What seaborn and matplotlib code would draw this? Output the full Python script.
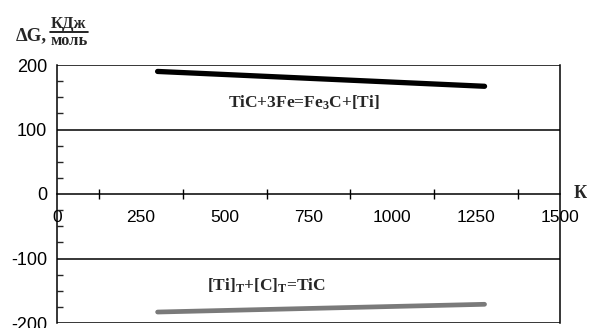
import matplotlib
matplotlib.use("Agg")
import matplotlib.pyplot as plt
import seaborn as sns
import pandas as pd
from matplotlib.ticker import MultipleLocator

# temperature, K
temp = [300, 1275]
# dG for the two reactions, kJ/mol
dg_fe3c = [190, 167]
dg_tic = [-183, -171]

xticks = [0, 250, 500, 750, 1000, 1250, 1500]
yticks = [-200, -100, 0, 100, 200]

sns.set_style("white")
plt.rcParams['font.family'] = ['Liberation Sans', 'DejaVu Sans']
plt.rcParams['mathtext.fontset'] = 'custom'
plt.rcParams['mathtext.default'] = 'regular'
plt.rcParams['axes.unicode_minus'] = False

df = pd.DataFrame({'T': temp + temp,
                   'dG': dg_fe3c + dg_tic,
                   'r': ['fe3c'] * 2 + ['tic'] * 2})

fig = plt.figure(figsize=(5.95, 3.28), dpi=100)
ax = fig.add_axes([57 / 595, 1 - 323 / 328, 503 / 595, 258 / 328])

sns.lineplot(data=df[df.r == 'fe3c'], x='T', y='dG', color='black', lw=3.8, ax=ax)
sns.lineplot(data=df[df.r == 'tic'], x='T', y='dG', color='#7a7a7a', lw=3.4, ax=ax)

ax.set_xlim(0, 1500)
ax.set_ylim(-200, 200)
ax.set_xticks(xticks)
ax.set_yticks(yticks)
ax.xaxis.set_minor_locator(MultipleLocator(125))
ax.yaxis.set_minor_locator(MultipleLocator(25))
ax.set_xlabel('')
ax.set_ylabel('')

# x axis goes through zero
ax.spines['bottom'].set_position(('data', 0))
ax.spines['top'].set_visible(False)
for s in ['left', 'right', 'bottom']:
    ax.spines[s].set_color('black')
    ax.spines[s].set_linewidth(1.1)

for y in [-200, -100, 100, 200]:
    ax.axhline(y, color='black', lw=1.1, zorder=1)

ax.tick_params(axis='x', which='both', direction='inout', length=7, width=1,
               labelsize=12.5, pad=8, colors='black')
ax.tick_params(axis='y', which='major', direction='out', length=4, width=1,
               labelsize=13, pad=3, colors='black')
ax.tick_params(axis='y', which='minor', direction='in', length=4, width=1, left=True)
ax.tick_params(axis='x', which='minor', bottom=True)

serif = ['Liberation Serif', 'DejaVu Serif']
ax.text(510, 142, 'TiC+3Fe=Fe$_3$C+[Ti]', family=serif, weight='bold', fontsize=12.5,
        ha='left', va='center')
ax.text(447, -142, '[Ti]$_\\mathregular{T}$+[C]$_\\mathregular{T}$=TiC', family=serif,
        weight='bold', fontsize=12.5, ha='left', va='center')

fig.text(580 / 595, 1 - 193 / 328, 'К', family=serif, weight='bold', fontsize=13,
         ha='center', va='center')
fig.text(47 / 595, 1 - 36 / 328, 'ΔG,', family=serif, weight='bold', fontsize=13.5,
         ha='right', va='center')
fig.text(69 / 595, 1 - 24 / 328, 'КДж', family=serif, weight='bold', fontsize=12,
         ha='center', va='center')
fig.text(69 / 595, 1 - 41 / 328, 'моль', family=serif, weight='bold', fontsize=12,
         ha='center', va='center')
fig.add_artist(plt.Line2D([50 / 595, 88 / 595], [1 - 32 / 328, 1 - 32 / 328],
                          color='black', lw=1.2))

fig.savefig('out.png', dpi=100)
